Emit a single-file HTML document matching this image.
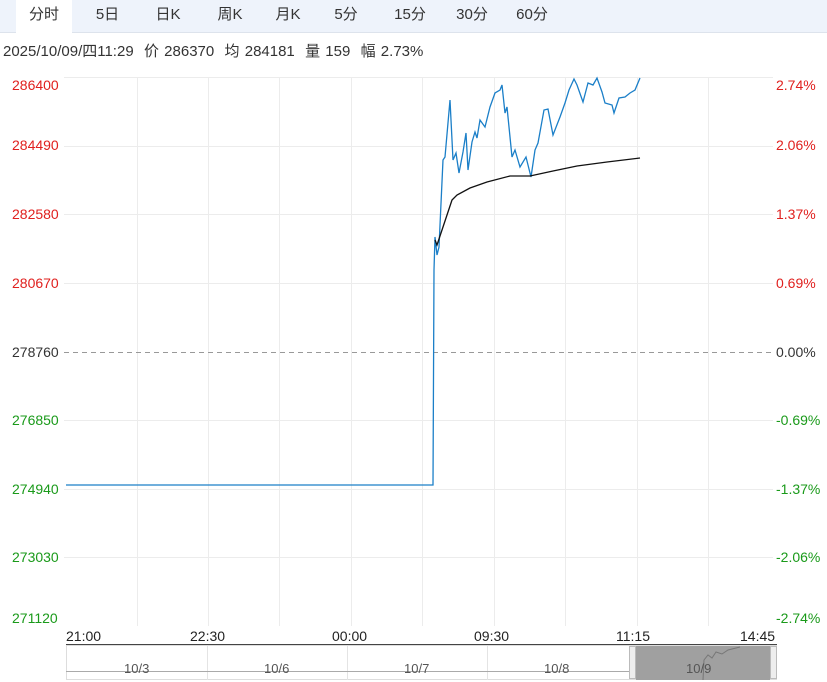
<!DOCTYPE html>
<html><head><meta charset="utf-8"><style>
body{margin:0;width:827px;height:682px;overflow:hidden;background:#fff;font-family:"Liberation Sans","Noto Sans CJK SC",sans-serif;}
.tabs{position:absolute;left:0;top:0;width:827px;height:32px;background:#eef3fb;border-bottom:1px solid #dde3ec;}
.tab{position:absolute;top:0;height:32px;line-height:30px;font-size:15px;color:#333;text-align:center;}
.info{position:absolute;left:3px;top:40px;font-size:15px;color:#333;word-spacing:1px;white-space:nowrap;}
</style></head><body>
<div class="tabs">
<div class="tab" style="left:16px;width:56px;background:#fff;height:33px">分时</div>
<div class="tab" style="left:85px;width:45px">5日</div>
<div class="tab" style="left:143px;width:50px">日K</div>
<div class="tab" style="left:200px;width:60px">周K</div>
<div class="tab" style="left:258px;width:60px">月K</div>
<div class="tab" style="left:316px;width:60px">5分</div>
<div class="tab" style="left:380px;width:60px">15分</div>
<div class="tab" style="left:442px;width:60px">30分</div>
<div class="tab" style="left:502px;width:60px">60分</div>
</div>
<div class="info">2025/10/09/四11:29&nbsp; 价 286370&nbsp; 均 284181&nbsp; 量 159&nbsp; 幅 2.73%</div>
<svg width="827" height="682" style="position:absolute;left:0;top:0" font-family="Liberation Sans, sans-serif" font-size="14">
<g stroke="#ececec" stroke-width="1">
<line x1="64" y1="77.5" x2="773" y2="77.5"/><line x1="64" y1="146.5" x2="773" y2="146.5"/><line x1="64" y1="214.5" x2="773" y2="214.5"/><line x1="64" y1="283.5" x2="773" y2="283.5"/><line x1="64" y1="420.5" x2="773" y2="420.5"/><line x1="64" y1="489.5" x2="773" y2="489.5"/><line x1="64" y1="557.5" x2="773" y2="557.5"/>
<line x1="137.5" y1="77" x2="137.5" y2="626"/><line x1="208.5" y1="77" x2="208.5" y2="626"/><line x1="279.5" y1="77" x2="279.5" y2="626"/><line x1="351.5" y1="77" x2="351.5" y2="626"/><line x1="422.5" y1="77" x2="422.5" y2="626"/><line x1="494.5" y1="77" x2="494.5" y2="626"/><line x1="565.5" y1="77" x2="565.5" y2="626"/><line x1="637.5" y1="77" x2="637.5" y2="626"/><line x1="708.5" y1="77" x2="708.5" y2="626"/>
</g>
<line x1="64" y1="352.5" x2="773" y2="352.5" stroke="#999" stroke-dasharray="5,4"/>
<g fill="#e0201e"><text x="12" y="90">286400</text><text x="12" y="150">284490</text><text x="12" y="219">282580</text><text x="12" y="288">280670</text>
<text x="776" y="90">2.74%</text><text x="776" y="150">2.06%</text><text x="776" y="219">1.37%</text><text x="776" y="288">0.69%</text></g>
<text x="12" y="357" fill="#333">278760</text><text x="776" y="357" fill="#333">0.00%</text>
<g fill="#1a9a1a"><text x="12" y="425">276850</text><text x="12" y="494">274940</text><text x="12" y="562">273030</text><text x="12" y="623">271120</text>
<text x="776" y="425">-0.69%</text><text x="776" y="494">-1.37%</text><text x="776" y="562">-2.06%</text><text x="776" y="623">-2.74%</text></g>
<polyline fill="none" stroke="#1b7fc8" stroke-width="1.3" points="66,485 433,485 434,270 435,237 437,255 439,247 443,160 445,157 450,100 453,160 456,153 459,173 463,152 466,133 468,170 472,142 475,132 477,138 480,120 485,127 490,107 495,93 500,90 502,85 505,113 507,107 512,157 515,150 520,167 526,157 531,177 535,150 538,143 544,110 548,109 553,135 560,117 565,103 569,90 574,79 577,85 583,102 588,83 593,85 597,78 602,92 605,103 612,105 614,113 619,98 625,97 630,93 635,90 640,78"/>
<polyline fill="none" stroke="#111" stroke-width="1.3" points="435,240 437,245 443,227 452,200 457,195 470,188 487,182 510,176 530,176 553,171 577,166 607,162 640,158"/>
<g fill="#222"><text x="66" y="641">21:00</text><text x="190" y="641">22:30</text><text x="332" y="641">00:00</text><text x="474" y="641">09:30</text><text x="616" y="641">11:15</text><text x="740" y="641">14:45</text></g>
<line x1="66" y1="645" x2="777" y2="645" stroke="#444" stroke-width="2"/>
<rect x="66.5" y="645.5" width="710" height="34" fill="none" stroke="#ddd"/>
<g stroke="#e4e4e4"><line x1="207.5" y1="646" x2="207.5" y2="680"/><line x1="347.5" y1="646" x2="347.5" y2="680"/><line x1="487.5" y1="646" x2="487.5" y2="680"/></g>
<line x1="66" y1="671.5" x2="630" y2="671.5" stroke="#aaa"/>
<rect x="636" y="646" width="134" height="34" fill="#a0a0a0"/>
<rect x="629.5" y="646.5" width="6" height="32" fill="#eee" stroke="#bbb"/>
<rect x="770.5" y="646.5" width="6" height="32" fill="#eee" stroke="#bbb"/>
<polyline fill="none" stroke="#777" points="703,680 704,660 708,655 712,658 716,652 722,654 728,650 740,647"/>
<g fill="#555" font-size="13"><text x="124" y="673">10/3</text><text x="264" y="673">10/6</text><text x="404" y="673">10/7</text><text x="544" y="673">10/8</text><text x="686" y="673">10/9</text></g>
</svg>
</body></html>
